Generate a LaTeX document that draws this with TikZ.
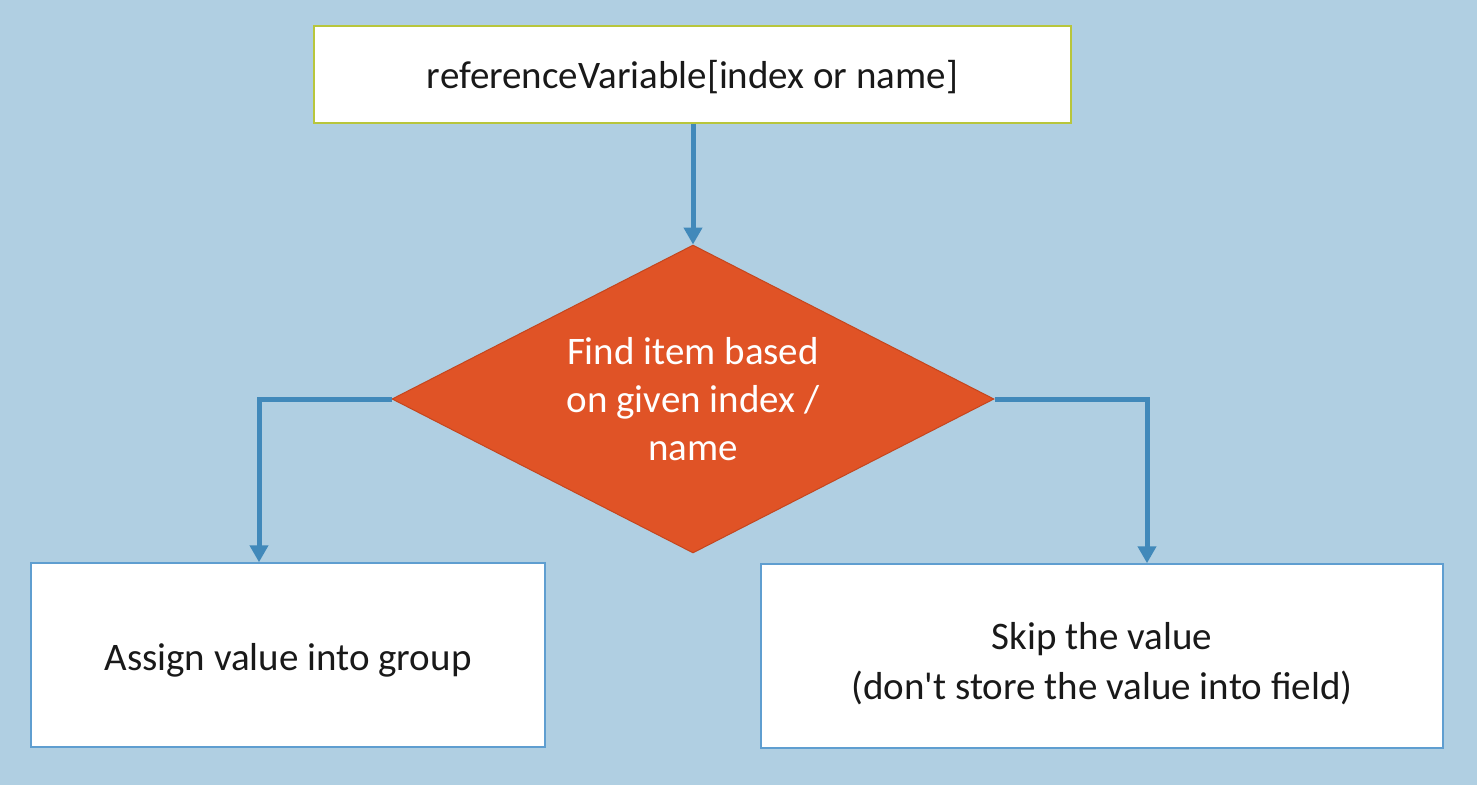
\documentclass[tikz,border=0pt]{standalone}
\usepackage{fontspec}
\setmainfont{Carlito}
\usetikzlibrary{arrows.meta,shapes.geometric,positioning}
\definecolor{bgblue}{RGB}{176,207,226}
\definecolor{linkblue}{RGB}{65,137,186}
\definecolor{boxline}{RGB}{95,158,208}
\definecolor{topline}{RGB}{184,198,60}
\definecolor{findfill}{RGB}{224,83,38}
\definecolor{findline}{RGB}{196,70,30}

\begin{document}
\begin{tikzpicture}[x=1pt,y=-1pt,
  every node/.style={font=\fontsize{39}{48}\selectfont,text=black!90},
  stepbox/.style={rectangle,fill=white,draw=boxline,line width=1.5pt,align=center,inner sep=0pt},
  decide/.style={diamond,aspect=2,fill=findfill,draw=findline,line width=1pt,text=white,align=center,inner sep=0pt,
    minimum width=602pt,minimum height=308pt},
  conn/.style={draw=linkblue,line width=5pt,-{Triangle[width=18pt,length=17pt]}}]
\useasboundingbox (0,0) rectangle (1477,784);
\fill[bgblue] (-6,-6) rectangle (1483,790);

\node at (692.5,74.5)[stepbox,draw=topline,minimum width=757pt,minimum height=97pt,text height=34pt](ref){referenceVariable[index or name]};
\node at (693,399)[decide](find){Find item based\\on given index /\\name};
\node at (288,655)[stepbox,minimum width=514pt,minimum height=184pt,text height=38pt](assign){Assign value into group};
\node at (1102,656)[stepbox,minimum width=682pt,minimum height=184pt,font=\fontsize{39}{50}\selectfont,text height=92pt](skip){Skip the value\\ (don\textquotesingle t store the value into field)};

\draw[conn] (ref.south -| find.north) -- (find.north);
\draw[conn] (find.west) -| ([xshift=-29pt]assign.north);
\draw[conn] (find.east) -| ([xshift=45pt]skip.north);
\end{tikzpicture}
\end{document}
